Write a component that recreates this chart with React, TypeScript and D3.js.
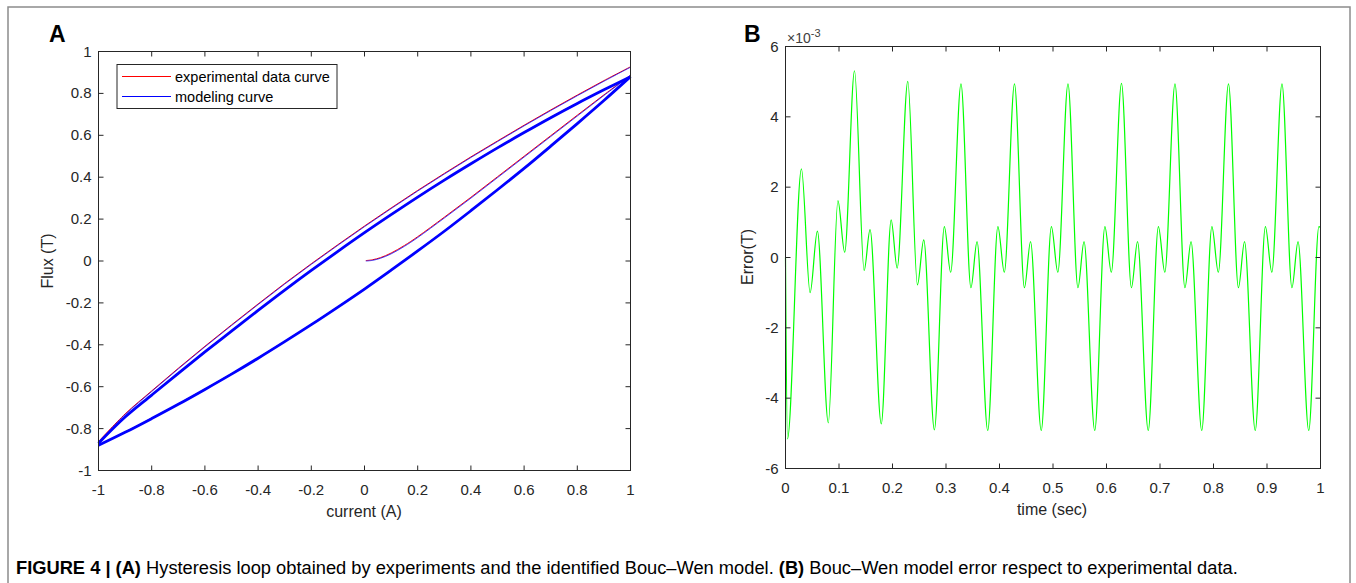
import * as d3 from "d3";

// panel A: hysteresis loop, flux (T) vs current (A)
const loopCurrent = [-1, -0.9, -0.8, -0.7, -0.6, -0.5, -0.4, -0.3, -0.2, -0.1, 0, 0.1, 0.2, 0.3, 0.4, 0.5, 0.6, 0.7, 0.8, 0.9, 1];
// first descending branch (thin)
const modelUpperFirst = [-0.865, -0.733, -0.623, -0.515, -0.41, -0.308, -0.208, -0.11, -0.016, 0.075, 0.164, 0.25, 0.334, 0.415, 0.494, 0.57, 0.645, 0.718, 0.789, 0.858, 0.925];
const expUpperFirst = [-0.862, -0.73, -0.62, -0.512, -0.407, -0.305, -0.205, -0.107, -0.013, 0.078, 0.167, 0.253, 0.337, 0.418, 0.497, 0.573, 0.648, 0.721, 0.792, 0.861, 0.927];
// steady descending branch (thick)
const modelUpperSteady = [-0.87, -0.745, -0.64, -0.536, -0.434, -0.335, -0.236, -0.139, -0.045, 0.046, 0.135, 0.221, 0.305, 0.386, 0.464, 0.54, 0.613, 0.684, 0.752, 0.817, 0.88];
const expUpperSteady = [-0.868, -0.743, -0.638, -0.534, -0.432, -0.333, -0.234, -0.137, -0.043, 0.048, 0.137, 0.223, 0.307, 0.388, 0.466, 0.542, 0.615, 0.686, 0.754, 0.818, 0.88];
// steady ascending branch (thick)
const modelLowerSteady = [-0.88, -0.818, -0.752, -0.684, -0.613, -0.54, -0.464, -0.385, -0.304, -0.22, -0.134, -0.044, 0.048, 0.142, 0.24, 0.34, 0.442, 0.548, 0.656, 0.766, 0.88];
const expLowerSteady = [-0.878, -0.816, -0.75, -0.682, -0.611, -0.538, -0.462, -0.383, -0.302, -0.218, -0.132, -0.042, 0.05, 0.144, 0.242, 0.342, 0.444, 0.55, 0.658, 0.768, 0.88];
// initial magnetisation curve
const initCurrent = [0.005, 0.03, 0.06, 0.1, 0.15, 0.2, 0.3, 0.4, 0.5, 0.6, 0.7, 0.8, 0.9, 1];
const modelInit = [0, 0.003, 0.013, 0.034, 0.07, 0.112, 0.205, 0.3, 0.398, 0.496, 0.594, 0.692, 0.79, 0.885];
const expInit = [0.002, 0.006, 0.016, 0.038, 0.074, 0.116, 0.209, 0.304, 0.402, 0.5, 0.598, 0.696, 0.793, 0.887];

// panel B: model error (x10^-3 T) vs time (sec)
const errTime = [0, 0.0037, 0.0298, 0.046, 0.0596, 0.08, 0.098, 0.1106, 0.129, 0.147, 0.158, 0.179, 0.1975, 0.2087, 0.2286, 0.2466, 0.2584, 0.2783, 0.2969, 0.3087,
  0.328, 0.3466, 0.358, 0.378, 0.397, 0.409, 0.428, 0.4466, 0.458, 0.478, 0.497, 0.509, 0.528, 0.5466, 0.558, 0.578, 0.597, 0.609,
  0.628, 0.6466, 0.658, 0.678, 0.697, 0.709, 0.728, 0.7466, 0.758, 0.778, 0.797, 0.809, 0.828, 0.8466, 0.858, 0.878, 0.897, 0.909,
  0.928, 0.9466, 0.958, 0.978, 0.997, 1.0];
const errValue = [0, -5.16, 2.52, -1.0, 0.75, -4.7, 1.62, 0.15, 5.31, -0.37, 0.79, -4.73, 1.07, -0.3, 5.01, -0.78, 0.5, -4.9, 0.88, -0.42,
  4.94, -0.86, 0.45, -4.92, 0.88, -0.42, 4.94, -0.86, 0.45, -4.92, 0.88, -0.42, 4.94, -0.86, 0.45, -4.92, 0.88, -0.42,
  4.95, -0.86, 0.45, -4.92, 0.88, -0.42, 4.94, -0.86, 0.45, -4.92, 0.88, -0.42, 4.94, -0.86, 0.45, -4.92, 0.88, -0.42,
  4.94, -0.86, 0.45, -4.92, 0.88, 0.85];

const currentTicks = [-1, -0.8, -0.6, -0.4, -0.2, 0, 0.2, 0.4, 0.6, 0.8, 1];
const fluxTicks = [-1, -0.8, -0.6, -0.4, -0.2, 0, 0.2, 0.4, 0.6, 0.8, 1];
const timeTicks = [0, 0.1, 0.2, 0.3, 0.4, 0.5, 0.6, 0.7, 0.8, 0.9, 1];
const errTicks = [-6, -4, -2, 0, 2, 4, 6];

const FONT = "'Liberation Sans', Arial, Helvetica, sans-serif";
const AX = "#262626";

function Axes({ x, y, xTicks, yTicks, xLabelY }: any) {
  const [x0, x1] = x.range();
  const [y0, y1] = y.range();
  const t = 5;
  return (
    <g>
      <rect x={x0} y={y1} width={x1 - x0} height={y0 - y1} fill="none" stroke={AX} strokeWidth={1} />
      {xTicks.map((v: number) => (
        <g key={"x" + v}>
          <line x1={x(v)} x2={x(v)} y1={y0} y2={y0 - t} stroke={AX} />
          <line x1={x(v)} x2={x(v)} y1={y1} y2={y1 + t} stroke={AX} />
          <text x={x(v)} y={xLabelY} textAnchor="middle" fontSize={15} fill={AX} fontFamily={FONT}>{String(v)}</text>
        </g>
      ))}
      {yTicks.map((v: number) => (
        <g key={"y" + v}>
          <line x1={x0} x2={x0 + t} y1={y(v)} y2={y(v)} stroke={AX} />
          <line x1={x1} x2={x1 - t} y1={y(v)} y2={y(v)} stroke={AX} />
          <text x={x0 - 7} y={y(v) + 5} textAnchor="end" fontSize={15} fill={AX} fontFamily={FONT}>{String(v)}</text>
        </g>
      ))}
    </g>
  );
}

export default function App() {
  const xA = d3.scaleLinear().domain([-1, 1]).range([98.5, 630.5]);
  const yA = d3.scaleLinear().domain([-1, 1]).range([470.5, 51.5]);
  const xB = d3.scaleLinear().domain([0, 1]).range([785.5, 1320.5]);
  const yB = d3.scaleLinear().domain([-6, 6]).range([468.5, 46.5]);

  const branch = (xs: number[]) =>
    d3.line<number>().x((_, i) => xA(xs[i])).y((d) => yA(d)).curve(d3.curveCatmullRom.alpha(0.5));
  const loopLine = branch(loopCurrent);
  const initLine = branch(initCurrent);
  const errLine = d3.line<number>().x((_, i) => xB(errTime[i])).y((d) => yB(d)).curve(d3.curveMonotoneX);

  return (
    <svg width={1356} height={583} style={{ position: "absolute", left: 0, top: 0, background: "#fff" }}>
      <rect x={8} y={7} width={1342} height={600} fill="#fff" stroke="#8c8c8c" strokeWidth={1.5} />

      {/* panel A */}
      <text x={49} y={42} fontSize={23} fontWeight="bold" fontFamily={FONT} fill="#000">A</text>
      <g fill="none">
        <path d={loopLine(expLowerSteady)!} stroke="#ff0000" strokeWidth={1} />
        <path d={loopLine(expUpperSteady)!} stroke="#ff0000" strokeWidth={1} />
        <path d={loopLine(expUpperFirst)!} stroke="#ff0000" strokeWidth={1} />
        <path d={initLine(expInit)!} stroke="#ff0000" strokeWidth={1} />
        <path d={loopLine(modelLowerSteady)!} stroke="#0000ff" strokeWidth={2.8} />
        <path d={loopLine(modelUpperSteady)!} stroke="#0000ff" strokeWidth={2.8} />
        <path d={loopLine(modelUpperFirst)!} stroke="#0000ff" strokeWidth={1} strokeOpacity={0.75} />
        <path d={initLine(modelInit)!} stroke="#0000ff" strokeWidth={1} strokeOpacity={0.75} />
      </g>
      <Axes x={xA} y={yA} xTicks={currentTicks} yTicks={fluxTicks} xLabelY={495} />
      <text x={364} y={517} textAnchor="middle" fontSize={16} fill={AX} fontFamily={FONT}>current (A)</text>
      <text transform="translate(53,261) rotate(-90)" textAnchor="middle" fontSize={16} fill={AX} fontFamily={FONT}>Flux (T)</text>

      {/* legend */}
      <rect x={117} y={64.5} width={220} height={44} fill="#fff" stroke={AX} strokeWidth={1} />
      <line x1={122} x2={171} y1={76.5} y2={76.5} stroke="#ff0000" strokeWidth={1} />
      <line x1={122} x2={171} y1={96.5} y2={96.5} stroke="#0000ff" strokeWidth={1} />
      <text x={175} y={81.5} fontSize={14.5} fill="#000" fontFamily={FONT}>experimental data curve</text>
      <text x={175} y={101.5} fontSize={14.5} fill="#000" fontFamily={FONT}>modeling curve</text>

      {/* panel B */}
      <text x={744} y={42} fontSize={23} fontWeight="bold" fontFamily={FONT} fill="#000">B</text>
      <path d={errLine(errValue)!} fill="none" stroke="#00ff00" strokeWidth={1.2} />
      <Axes x={xB} y={yB} xTicks={timeTicks} yTicks={errTicks} xLabelY={493} />
      <text x={787} y={43} fontSize={14} fill="#404040" fontFamily={FONT}>
        ×10<tspan dy={-6} fontSize={11}>-3</tspan>
      </text>
      <text x={1052} y={515} textAnchor="middle" fontSize={16} fill={AX} fontFamily={FONT}>time (sec)</text>
      <text transform="translate(753,257) rotate(-90)" textAnchor="middle" fontSize={16} fill={AX} fontFamily={FONT}>Error(T)</text>

      {/* caption */}
      <text x={16} y={574} fontSize={18.3} fill="#000" fontFamily={FONT}>
        <tspan fontWeight="bold">FIGURE 4 | (A)</tspan> Hysteresis loop obtained by experiments and the identified Bouc–Wen model.{" "}
        <tspan fontWeight="bold">(B)</tspan> Bouc–Wen model error respect to experimental data.
      </text>
    </svg>
  );
}
